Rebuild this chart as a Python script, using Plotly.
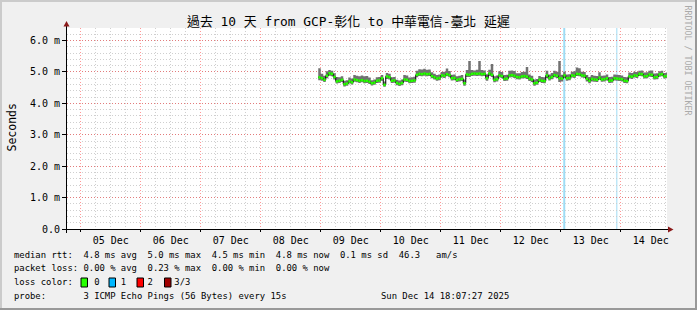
import plotly.graph_objects as go
import pandas as pd

# ---------------- data ----------------
start_time = "2025-12-08 23:00"
median_ms = [
    4.83, 4.80, 4.75, 4.88, 4.96, 4.94, 4.84, 4.70, 4.72, 4.75,
    4.61, 4.63, 4.70, 4.67, 4.76, 4.74, 4.72, 4.74, 4.71, 4.72,
    4.69, 4.64, 4.66, 4.72, 4.73, 4.80, 4.59, 4.86, 4.83, 4.72,
    4.73, 4.65, 4.62, 4.65, 4.76, 4.75, 4.71, 4.72, 4.73, 4.91,
    4.94, 4.93, 4.95, 4.93, 4.94, 4.87, 4.83, 4.79, 4.81, 4.89,
    4.88, 4.93, 4.90, 4.80, 4.81, 4.75, 4.77, 4.78, 4.64, 4.92,
    4.91, 4.94, 4.95, 4.94, 4.95, 4.93, 4.94, 4.80, 4.95, 4.91,
    4.75, 4.77, 4.89, 4.87, 4.78, 4.79, 4.89, 4.90, 4.88, 4.84,
    4.83, 4.86, 4.87, 4.85, 4.79, 4.76, 4.64, 4.66, 4.75, 4.72,
    4.71, 4.89, 4.80, 4.84, 4.90, 4.88, 4.80, 4.79, 4.89, 4.80,
    4.81, 4.89, 4.88, 4.94, 4.93, 4.89, 4.88, 4.78, 4.72, 4.78,
    4.76, 4.75, 4.82, 4.76, 4.77, 4.80, 4.72, 4.73, 4.80, 4.79,
    4.78, 4.77, 4.72, 4.71, 4.86, 4.85, 4.89, 4.88, 4.94, 4.93,
    4.86, 4.87, 4.92, 4.91, 4.83, 4.84, 4.92, 4.93, 4.86, 4.87,
]
min_ms = [
    4.74, 4.72, 4.68, 4.80, 4.88, 4.86, 4.76, 4.63, 4.65, 4.68,
    4.54, 4.56, 4.63, 4.60, 4.69, 4.67, 4.65, 4.67, 4.64, 4.65,
    4.62, 4.57, 4.59, 4.65, 4.66, 4.72, 4.53, 4.78, 4.76, 4.65,
    4.66, 4.58, 4.55, 4.58, 4.69, 4.68, 4.64, 4.65, 4.66, 4.83,
    4.87, 4.86, 4.88, 4.86, 4.87, 4.80, 4.76, 4.72, 4.74, 4.82,
    4.81, 4.86, 4.83, 4.73, 4.74, 4.68, 4.70, 4.71, 4.56, 4.84,
    4.84, 4.87, 4.88, 4.87, 4.88, 4.86, 4.87, 4.72, 4.87, 4.84,
    4.67, 4.70, 4.82, 4.80, 4.71, 4.72, 4.82, 4.83, 4.81, 4.77,
    4.76, 4.79, 4.80, 4.78, 4.71, 4.68, 4.56, 4.59, 4.68, 4.65,
    4.64, 4.81, 4.73, 4.77, 4.83, 4.81, 4.68, 4.70, 4.81, 4.72,
    4.74, 4.82, 4.81, 4.87, 4.86, 4.82, 4.81, 4.70, 4.64, 4.70,
    4.69, 4.68, 4.75, 4.69, 4.70, 4.73, 4.65, 4.66, 4.73, 4.72,
    4.71, 4.70, 4.65, 4.64, 4.79, 4.78, 4.82, 4.81, 4.87, 4.86,
    4.79, 4.80, 4.85, 4.84, 4.76, 4.77, 4.85, 4.86, 4.79, 4.80,
]
max_ms = [
    5.12, 4.94, 4.88, 5.02, 5.06, 5.04, 4.96, 4.84, 4.83, 4.86,
    4.72, 4.74, 4.82, 4.79, 4.90, 4.88, 4.86, 4.89, 4.86, 4.87,
    4.82, 4.74, 4.76, 4.83, 4.84, 4.90, 4.70, 4.97, 4.94, 4.83,
    4.84, 4.75, 4.73, 4.76, 4.90, 4.89, 4.82, 4.83, 4.85, 5.04,
    5.09, 5.08, 5.10, 5.07, 5.08, 4.99, 4.94, 4.90, 4.92, 5.00,
    5.01, 5.11, 5.03, 4.91, 4.92, 4.86, 4.88, 4.90, 4.76, 5.06,
    5.35, 5.06, 5.05, 5.07, 5.35, 5.06, 5.05, 4.92, 5.07, 5.25,
    4.86, 4.89, 5.02, 5.00, 4.90, 4.91, 5.04, 5.05, 5.03, 4.96,
    4.96, 5.00, 5.01, 5.16, 4.92, 4.88, 4.76, 4.78, 4.87, 4.84,
    4.83, 5.04, 4.92, 4.97, 5.04, 5.01, 5.35, 4.91, 5.01, 4.92,
    4.93, 5.01, 5.02, 5.14, 5.12, 5.01, 5.00, 4.90, 4.84, 4.90,
    4.88, 4.87, 4.99, 4.88, 4.89, 4.92, 4.84, 4.85, 4.92, 4.91,
    4.90, 4.89, 4.84, 4.83, 4.98, 4.97, 5.01, 5.00, 5.04, 5.05,
    4.98, 4.99, 5.04, 5.05, 4.95, 4.96, 5.02, 5.04, 4.97, 4.98,
]
loss_start = ["2025-12-13 01:00", "2025-12-13 22:14"]
loss_end = ["2025-12-13 01:48", "2025-12-13 22:38"]

x_range = ["2025-12-04 18:30", "2025-12-14 18:30"]
y_range = [0, 6.4]
y_tickvals = [0, 1, 2, 3, 4, 5, 6]
y_ticktext = ["0.0", "1.0 m", "2.0 m", "3.0 m", "4.0 m", "5.0 m", "6.0 m"]

title_text = "過去 10 天 from GCP-彰化 to 中華電信-臺北 延遲"
legend_lines = [
    "median rtt:  4.8 ms avg  5.0 ms max  4.5 ms min  4.8 ms now  0.1 ms sd  46.3   am/s",
    "packet loss: 0.00 % avg  0.23 % max  0.00 % min  0.00 % now",
    "loss color:    0    1    2    3/3",
    "probe:       3 ICMP Echo Pings (56 Bytes) every 15s",
]
loss_legend_colors = ["#26ff00", "#00b8ff", "#ff0000", "#a00000"]
date_text = "Sun Dec 14 18:07:27 2025"

# ---------------- layout helpers ----------------
W, H = 697, 310
L, R, T, B = 67, 30, 28, 81
PW, PH = W - L - R, H - T - B


def px(xp):
    return (xp - L) / PW


def py(yp):
    return (H - B - yp) / PH


MONO = "DejaVu Sans Mono"

times = list(pd.date_range(start_time, periods=len(median_ms), freq="h"))
t_ext = times + [times[-1] + pd.Timedelta(hours=1)]
lo_ext = min_ms + [min_ms[-1]]
hi_ext = max_ms + [max_ms[-1]]
med_ext = median_ms + [median_ms[-1]]

seg_x, seg_y = [], []
for i, v in enumerate(median_ms):
    seg_x += [t_ext[i], t_ext[i + 1], None]
    seg_y += [v, v, None]

fig = go.Figure()
fig.add_trace(go.Scatter(x=t_ext, y=lo_ext, mode="lines",
                         line=dict(width=0, shape="hv", color="#717171"),
                         hoverinfo="skip", showlegend=False))
fig.add_trace(go.Scatter(x=t_ext, y=hi_ext, mode="lines", fill="tonexty",
                         fillcolor="#717171",
                         line=dict(width=0, shape="hv", color="#717171"),
                         hoverinfo="skip", showlegend=False))
fig.add_trace(go.Scatter(x=t_ext, y=med_ext, mode="lines",
                         line=dict(width=1, shape="hv", color="#000000"),
                         hoverinfo="skip", showlegend=False))
fig.add_trace(go.Scatter(x=seg_x, y=seg_y, mode="lines",
                         line=dict(width=2.5, color="#26ff00"),
                         hoverinfo="skip", showlegend=False))

shapes = []
for s, e in zip(loss_start, loss_end):
    shapes.append(dict(type="rect", xref="x", yref="paper", x0=s, x1=e,
                       y0=0, y1=1, fillcolor="#9edcf5", line=dict(width=0),
                       layer="below"))

# axis lines with arrows
shapes.append(dict(type="line", xref="paper", yref="paper",
                   x0=px(62), x1=px(669), y0=py(229.5), y1=py(229.5),
                   line=dict(color="#000000", width=1)))
shapes.append(dict(type="line", xref="paper", yref="paper",
                   x0=px(66.5), x1=px(66.5), y0=py(233), y1=py(25),
                   line=dict(color="#000000", width=1)))
shapes.append(dict(type="path", xref="paper", yref="paper",
                   path=f"M {px(668)},{py(226.5)} L {px(673.5)},{py(229.5)} L {px(668)},{py(232.5)} Z",
                   fillcolor="#8b1a1a", line=dict(width=0)))
shapes.append(dict(type="path", xref="paper", yref="paper",
                   path=f"M {px(63.5)},{py(26.5)} L {px(66.5)},{py(21)} L {px(69.5)},{py(26.5)} Z",
                   fillcolor="#8b1a1a", line=dict(width=0)))

# loss colour legend boxes
box_left = [81, 109, 137, 164.5]
for bx, col in zip(box_left, loss_legend_colors):
    shapes.append(dict(type="rect", xref="paper", yref="paper",
                       x0=px(bx), x1=px(bx + 6.5), y0=py(287), y1=py(278),
                       fillcolor=col, line=dict(color="#000000", width=1)))

# 3D border
shapes.append(dict(type="rect", xref="paper", yref="paper", x0=px(0), x1=px(2),
                   y0=py(0), y1=py(310), fillcolor="#cbcbcb", line=dict(width=0)))
shapes.append(dict(type="rect", xref="paper", yref="paper", x0=px(0), x1=px(697),
                   y0=py(0), y1=py(2), fillcolor="#cbcbcb", line=dict(width=0)))
shapes.append(dict(type="rect", xref="paper", yref="paper", x0=px(695), x1=px(697),
                   y0=py(0), y1=py(310), fillcolor="#999999", line=dict(width=0)))
shapes.append(dict(type="rect", xref="paper", yref="paper", x0=px(0), x1=px(697),
                   y0=py(308), y1=py(310), fillcolor="#999999", line=dict(width=0)))

annotations = []
annotations.append(dict(text=title_text, xref="paper", yref="paper",
                        x=px(348.5), y=py(21), xanchor="center", yanchor="middle",
                        showarrow=False,
                        font=dict(family=MONO + ", Noto Sans CJK TC", size=12.9, color="#000000")))
annotations.append(dict(text="Seconds", xref="paper", yref="paper",
                        x=px(11), y=py(127.5), xanchor="center", yanchor="middle",
                        textangle=-90, showarrow=False,
                        font=dict(family=MONO, size=11.5, color="#000000")))
annotations.append(dict(text="RRDTOOL / TOBI OETIKER", xref="paper", yref="paper",
                        x=px(687.5), y=py(60), xanchor="center", yanchor="middle",
                        textangle=90, showarrow=False,
                        font=dict(family=MONO, size=8.3, color="#aaaaaa")))
legend_y = [255, 268.3, 282.3, 296]
for line, ly in zip(legend_lines, legend_y):
    annotations.append(dict(text=line.replace(" ", "\u00a0"), xref="paper", yref="paper",
                            x=px(11.5), y=py(ly), xanchor="left", yanchor="middle",
                            showarrow=False,
                            font=dict(family=MONO, size=8.9, color="#000000")))
annotations.append(dict(text=date_text.replace(" ", "\u00a0"), xref="paper", yref="paper",
                        x=px(511), y=py(296), xanchor="right", yanchor="middle",
                        showarrow=False,
                        font=dict(family=MONO, size=8.9, color="#000000")))

fig.update_layout(
    width=W, height=H,
    margin=dict(l=L, r=R, t=T, b=B, pad=0),
    paper_bgcolor="#f0f0f0",
    plot_bgcolor="#ffffff",
    showlegend=False,
    shapes=shapes,
    annotations=annotations,
    xaxis=dict(
        type="date", range=x_range, fixedrange=True,
        dtick=86400000, tick0="2025-12-05 00:00", tickformat="%d %b",
        ticklabelmode="period",
        showgrid=True, gridcolor="rgba(255,0,0,0.4)", griddash="1px,2px", gridwidth=1,
        minor=dict(dtick=21600000, showgrid=True, gridcolor="#cfcfcf",
                   griddash="1px,2px", gridwidth=1),
        ticks="outside", ticklen=2, tickcolor="#000000",
        showline=False, zeroline=False,
        tickfont=dict(family=MONO, size=10, color="#000000"),
    ),
    yaxis=dict(
        range=y_range, fixedrange=True,
        tickvals=y_tickvals, ticktext=y_ticktext,
        showgrid=True, gridcolor="rgba(255,0,0,0.4)", griddash="1px,2px", gridwidth=1,
        minor=dict(dtick=0.2, tick0=0, showgrid=True, gridcolor="#cfcfcf",
                   griddash="1px,2px", gridwidth=1),
        ticks="outside", ticklen=4, tickcolor="#000000",
        showline=False, zeroline=False,
        tickfont=dict(family=MONO, size=10, color="#000000"),
    ),
)

fig.write_html("out.html", config={"displayModeBar": False})
